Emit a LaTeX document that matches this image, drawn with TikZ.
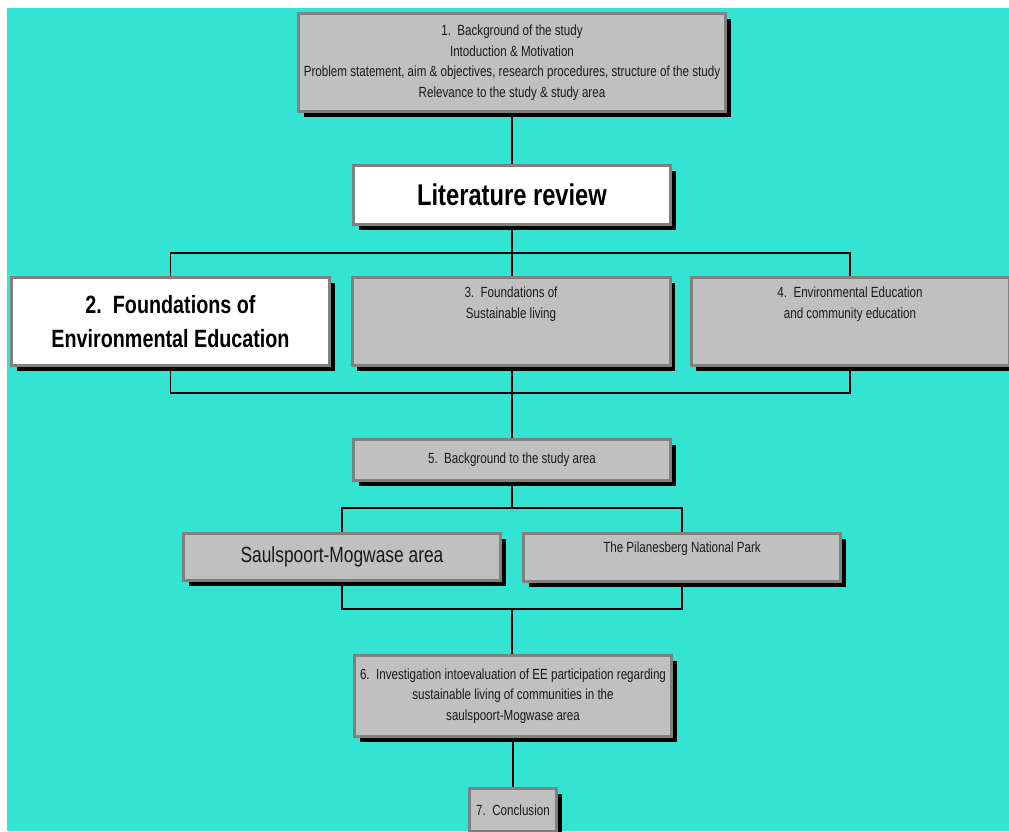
\documentclass[tikz,border=0pt]{standalone}
\usepackage{fontspec}
\setmainfont{Liberation Sans}[FakeStretch=0.79]
\usetikzlibrary{shadows,backgrounds}
\definecolor{sea}{RGB}{51,228,211}
\definecolor{boxgray}{RGB}{192,192,192}
\definecolor{rimgray}{RGB}{128,128,128}
\definecolor{ink}{RGB}{25,25,25}
\begin{document}
\begin{tikzpicture}[x=1pt,y=-1pt,
  box/.style={draw=rimgray, line width=3pt, fill=boxgray, inner sep=0pt, align=center,
    text=ink, font=\fontsize{14.7}{20.5}\selectfont,
    drop shadow={shadow xshift=5pt, shadow yshift=-5pt, fill=black, opacity=1}},
  whitebox/.style={box, fill=white, text=black},
  plain/.style={inner sep=0pt, align=center, text=ink, font=\fontsize{14.7}{20.5}\selectfont},
  wire/.style={draw=black, line width=1.6pt}
]
\useasboundingbox (0,0) rectangle (1009,831);

% boxes
\node[box, minimum width=427pt, minimum height=98pt] (b1) at (512,62.5)
  {1.\ \ Background of the study\\Intoduction \& Motivation\\
   Problem statement, aim \& objectives, research procedures, structure of the study\\
   Relevance to the study \& study area};
\node[whitebox, minimum width=317pt, minimum height=59pt,
      font=\fontsize{30}{34}\selectfont\bfseries] (lit) at (512,195) {Literature review};

\node[whitebox, minimum width=318pt, minimum height=88pt,
      font=\fontsize{25}{34}\selectfont\bfseries] (b2) at (170.5,321.5)
  {2.\ \ Foundations of\\Environmental Education};
\node[box, minimum width=318pt, minimum height=88pt] (b3) at (511,321.5) {};
\node[plain, anchor=north] (t3) at (511,287) {3.\ \ Foundations of\\Sustainable living};
\node[box, minimum width=318pt, minimum height=88pt] (b4) at (850,321.5) {};
\node[plain, anchor=north] (t4) at (850,287) {4.\ \ Environmental Education\\and community education};

\node[box, minimum width=317pt, minimum height=41pt] (b5) at (512,460)
  {5.\ \ Background to the study area};

\node[box, minimum width=317pt, minimum height=47pt,
      font=\fontsize{22}{26}\selectfont] (saul) at (342,557) {Saulspoort-Mogwase area};
\node[box, minimum width=317pt, minimum height=48pt] (pil) at (682,557.5) {};
\node[plain, anchor=north] (tp) at (682,542) {The Pilanesberg National Park};

\node[box, minimum width=317pt, minimum height=81pt] (b6) at (513,696)
  {6.\ \ Investigation intoevaluation of EE participation regarding\\
   sustainable living of communities in the\\saulspoort-Mogwase area};

\node[box, minimum width=87pt, minimum height=43pt] (concl) at (513,810) {7.\ \ Conclusion};

% junction points of the connectors
\coordinate (j1) at (512,253);
\coordinate (j2) at (512,393);
\coordinate (j3) at (512,508);
\coordinate (j4) at (512,609);

\begin{scope}[on background layer]
  \fill[white] (0,0) rectangle (1009,831);
  \fill[sea] (7,8) rectangle (1009,831);
  \draw[wire] (b1.south) -- (lit.north);
  \draw[wire] (lit.south) -- (j1);
  \draw[wire] (b2.north) |- (j1) -| (b4.north);
  \draw[wire] (j1) -- (j1 |- b3.north);
  \draw[wire] (b2.south) |- (j2) -| (b4.south);
  \draw[wire] (j1 |- b3.south) -- (b5.north);
  \draw[wire] (b5.south) -- (j3);
  \draw[wire] (saul.north) |- (j3) -| (pil.north);
  \draw[wire] (saul.south) |- (j4) -| (pil.south);
  \draw[wire] (j4) -- (j4 |- b6.north);
  \draw[wire] (b6.south) -- (concl.north);
\end{scope}
\end{tikzpicture}
\end{document}
